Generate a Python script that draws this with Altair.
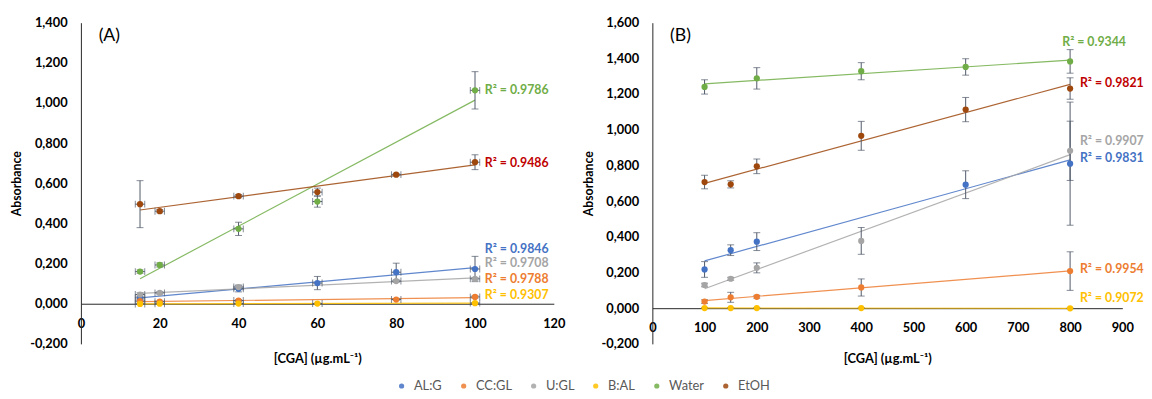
import altair as alt
import pandas as pd

FONT = "Lato"

SERIES = ["AL:G", "CC:GL", "U:GL", "B:AL", "Water", "EtOH"]
COLORS = ["#4472C4", "#ED7D31", "#A5A5A5", "#FFC000", "#70AD47", "#9E480E"]
LABEL_COLORS = ["#4472C4", "#ED7D31", "#A5A5A5", "#FFC000", "#70AD47", "#C00000"]

# ---------------- Panel A data ----------------
A_X = [15, 20, 40, 60, 80, 100]
A_Y = {
    "AL:G":  [0.029, None, 0.074, 0.103, 0.157, 0.173],
    "CC:GL": [0.013, 0.010, 0.016, None, 0.021, 0.034],
    "U:GL":  [0.046, 0.054, 0.083, None, 0.113, 0.124],
    "B:AL":  [-0.001, 0.000, 0.001, 0.001, None, 0.003],
    "Water": [0.160, 0.193, 0.373, 0.509, None, 1.063],
    "EtOH":  [0.496, 0.461, 0.536, 0.556, 0.643, 0.705],
}
A_ERR = {
    "AL:G":  [0.008, None, 0.015, 0.033, 0.045, 0.063],
    "CC:GL": [0.005, 0.004, 0.005, None, 0.005, 0.006],
    "U:GL":  [0.008, 0.006, 0.010, None, 0.006, 0.006],
    "B:AL":  [0.002, 0.002, 0.002, 0.002, None, 0.002],
    "Water": [0.008, 0.010, 0.033, 0.028, None, 0.093],
    "EtOH":  [0.117, 0.008, 0.008, 0.020, 0.006, 0.037],
}
A_XERR = [1.2, 1.2, 1.2, 1.2, 1.2, 1.2]
A_R2 = {"AL:G": "0.9846", "CC:GL": "0.9788", "U:GL": "0.9708",
        "B:AL": "0.9307", "Water": "0.9786", "EtOH": "0.9486"}

# ---------------- Panel B data ----------------
B_X = [100, 150, 200, 400, 600, 800]
B_Y = {
    "AL:G":  [0.217, 0.325, 0.373, None, 0.692, 0.810],
    "CC:GL": [0.037, 0.061, 0.064, 0.116, None, 0.208],
    "U:GL":  [0.130, 0.165, 0.226, 0.377, None, 0.882],
    "B:AL":  [0.001, 0.001, 0.001, 0.001, None, -0.001],
    "Water": [1.240, None, 1.288, 1.328, 1.352, 1.383],
    "EtOH":  [0.707, 0.694, 0.795, 0.966, 1.113, 1.231],
}
B_ERR = {
    "AL:G":  [0.044, 0.030, 0.050, None, 0.078, 0.345],
    "CC:GL": [0.010, 0.028, 0.008, 0.048, None, 0.108],
    "U:GL":  [0.010, 0.008, 0.028, 0.075, None, 0.166],
    "B:AL":  [0.002, 0.002, 0.002, 0.002, None, 0.002],
    "Water": [0.040, None, 0.060, 0.048, 0.046, 0.066],
    "EtOH":  [0.038, 0.020, 0.041, 0.081, 0.068, 0.060],
}
B_R2 = {"AL:G": "0.9831", "CC:GL": "0.9954", "U:GL": "0.9907",
        "B:AL": "0.9072", "Water": "0.9344", "EtOH": "0.9821"}

A_XTICKS = [0, 20, 40, 60, 80, 100, 120]
A_YTICKS = [-0.2, 0.0, 0.2, 0.4, 0.6, 0.8, 1.0, 1.2, 1.4]
B_XTICKS = [0, 100, 200, 300, 400, 500, 600, 700, 800, 900]
B_YTICKS = [-0.2, 0.0, 0.2, 0.4, 0.6, 0.8, 1.0, 1.2, 1.4, 1.6]

X_TITLE = "[CGA] (µg.mL⁻¹)"
Y_TITLE = "Absorbance"

# label offsets (pixels) relative to the last point of each series
A_LABEL_OFF = {"AL:G": (10, -20), "CC:GL": (10, -18), "U:GL": (10, -16),
               "B:AL": (10, -8), "Water": (10, 0), "EtOH": (10, 1)}
B_LABEL_OFF = {"AL:G": (10, -6), "CC:GL": (10, -2), "U:GL": (10, -10),
               "B:AL": (10, -10), "Water": (-8, -20), "EtOH": (10, -6)}

ERR_COLOR = "#4f5868"
AXIS_COLOR = "#262626"
W_A, W_B, H = 480, 477, 326
TICK_FS = 13

LEGEND = alt.Legend(title=None, orient="none", legendX=319, legendY=362,
                    direction="horizontal", columns=6, symbolType="circle",
                    symbolSize=28, symbolStrokeWidth=0, labelFont=FONT,
                    labelFontSize=13, labelColor="#595959",
                    columnPadding=15, labelOffset=6)
COLOR = alt.Color("series:N", scale=alt.Scale(domain=SERIES, range=COLORS),
                  legend=LEGEND)


def make_df(xs, ys, errs, xerrs=None):
    rows = []
    for s in SERIES:
        for i, (x, y, e) in enumerate(zip(xs, ys[s], errs[s])):
            if y is None:
                continue
            xe = xerrs[i] if xerrs else 0.0
            rows.append(dict(series=s, x=x, y=y, lo=y - e, hi=y + e,
                             xlo=x - xe, xhi=x + xe))
    return pd.DataFrame(rows)


Y_LABEL_EXPR = ("(datum.value < -0.0001 ? '-' : '') + "
                "replace(format(abs(datum.value), '.3f'), '.', ',')")


def panel(xs, ys, errs, r2, offs, xdom, ydom, xticks, yticks, width,
          letter, title_y, xerrs=None):
    df = make_df(xs, ys, errs, xerrs)
    xsc = alt.Scale(domain=xdom, nice=False, zero=False)
    ysc = alt.Scale(domain=ydom, nice=False, zero=False)
    axis_off = -H * (0 - ydom[0]) / (ydom[1] - ydom[0])
    x_axis = alt.Axis(values=xticks, format="d", offset=axis_off, ticks=False,
                      grid=False, domainColor=AXIS_COLOR, domainWidth=1,
                      labelFont=FONT, labelFontWeight="bold", labelFontSize=TICK_FS,
                      labelColor="black", labelPadding=14, labelFlush=False,
                      titleFont=FONT, titleFontSize=13,
                      titleFontWeight="bold", titleColor="black",
                      titleY=title_y, titleBaseline="middle")
    y_axis = alt.Axis(values=yticks, labelExpr=Y_LABEL_EXPR, ticks=False,
                      grid=False, domainColor=AXIS_COLOR, domainWidth=1,
                      labelFont=FONT, labelFontWeight="bold", labelFontSize=TICK_FS,
                      labelColor="black", labelPadding=14,
                      titleFont=FONT, titleFontSize=12.5,
                      titleFontWeight="bold", titleColor="black", titlePadding=6)

    def X(field):
        return alt.X(field, scale=xsc, axis=x_axis, title=X_TITLE)

    def Y(field):
        return alt.Y(field, scale=ysc, axis=y_axis, title=Y_TITLE)

    base = alt.Chart(df)

    trend = base.transform_regression("x", "y", groupby=["series"]).mark_line(
        strokeWidth=1.2, opacity=0.85).encode(x=X("x:Q"), y=Y("y:Q"), color=COLOR)

    yerr = base.mark_rule(color=ERR_COLOR, strokeWidth=1).encode(
        x=X("x:Q"), y=Y("lo:Q"), y2="hi:Q")
    cap_lo = base.mark_tick(orient="horizontal", size=7, thickness=1,
                            color=ERR_COLOR).encode(x=X("x:Q"), y=Y("lo:Q"))
    cap_hi = base.mark_tick(orient="horizontal", size=7, thickness=1,
                            color=ERR_COLOR).encode(x=X("x:Q"), y=Y("hi:Q"))
    layers = [trend, yerr, cap_lo, cap_hi]

    if xerrs:
        xerr = base.mark_rule(color=ERR_COLOR, strokeWidth=1).encode(
            x=X("xlo:Q"), x2="xhi:Q", y=Y("y:Q"))
        xcap_lo = base.mark_tick(orient="vertical", size=7, thickness=1,
                                 color=ERR_COLOR).encode(x=X("xlo:Q"), y=Y("y:Q"))
        xcap_hi = base.mark_tick(orient="vertical", size=7, thickness=1,
                                 color=ERR_COLOR).encode(x=X("xhi:Q"), y=Y("y:Q"))
        layers += [xerr, xcap_lo, xcap_hi]

    pts = base.mark_circle(size=40, opacity=1).encode(
        x=X("x:Q"), y=Y("y:Q"), color=COLOR)
    layers.append(pts)

    # R² labels at each series' last point
    for s, lc in zip(SERIES, LABEL_COLORS):
        last = [(x, y) for x, y in zip(xs, ys[s]) if y is not None][-1]
        ldf = pd.DataFrame({"x": [last[0]], "y": [last[1]],
                            "t": ["R² = " + r2[s]]})
        dx, dy = offs[s]
        layers.append(alt.Chart(ldf).mark_text(
            align="left", baseline="middle", dx=dx, dy=dy, font=FONT,
            fontSize=12.5, fontWeight="bold", color=lc).encode(
            x=X("x:Q"), y=Y("y:Q"), text="t:N"))

    tag = alt.Chart(pd.DataFrame({"t": [letter]})).mark_text(
        align="left", baseline="middle", font=FONT, fontSize=18,
        color="black").encode(x=alt.value(18), y=alt.value(14), text="t:N")
    layers.append(tag)

    return alt.layer(*layers).properties(width=width, height=H)


chart_a = panel(A_X, A_Y, A_ERR, A_R2, A_LABEL_OFF, [0, 120], [-0.2, 1.4],
                A_XTICKS, A_YTICKS, W_A, "(A)", 56, xerrs=A_XERR)
chart_b = panel(B_X, B_Y, B_ERR, B_R2, B_LABEL_OFF, [0, 900], [-0.2, 1.6],
                B_XTICKS, B_YTICKS, W_B, "(B)", 51)

chart = alt.hconcat(chart_a, chart_b, spacing=16).properties(
    padding={"left": 2, "top": 6, "right": 0, "bottom": 0}
).configure(background="white").configure_view(stroke=None)

chart.save("out.html", embed_options={"renderer": "svg", "actions": False})
